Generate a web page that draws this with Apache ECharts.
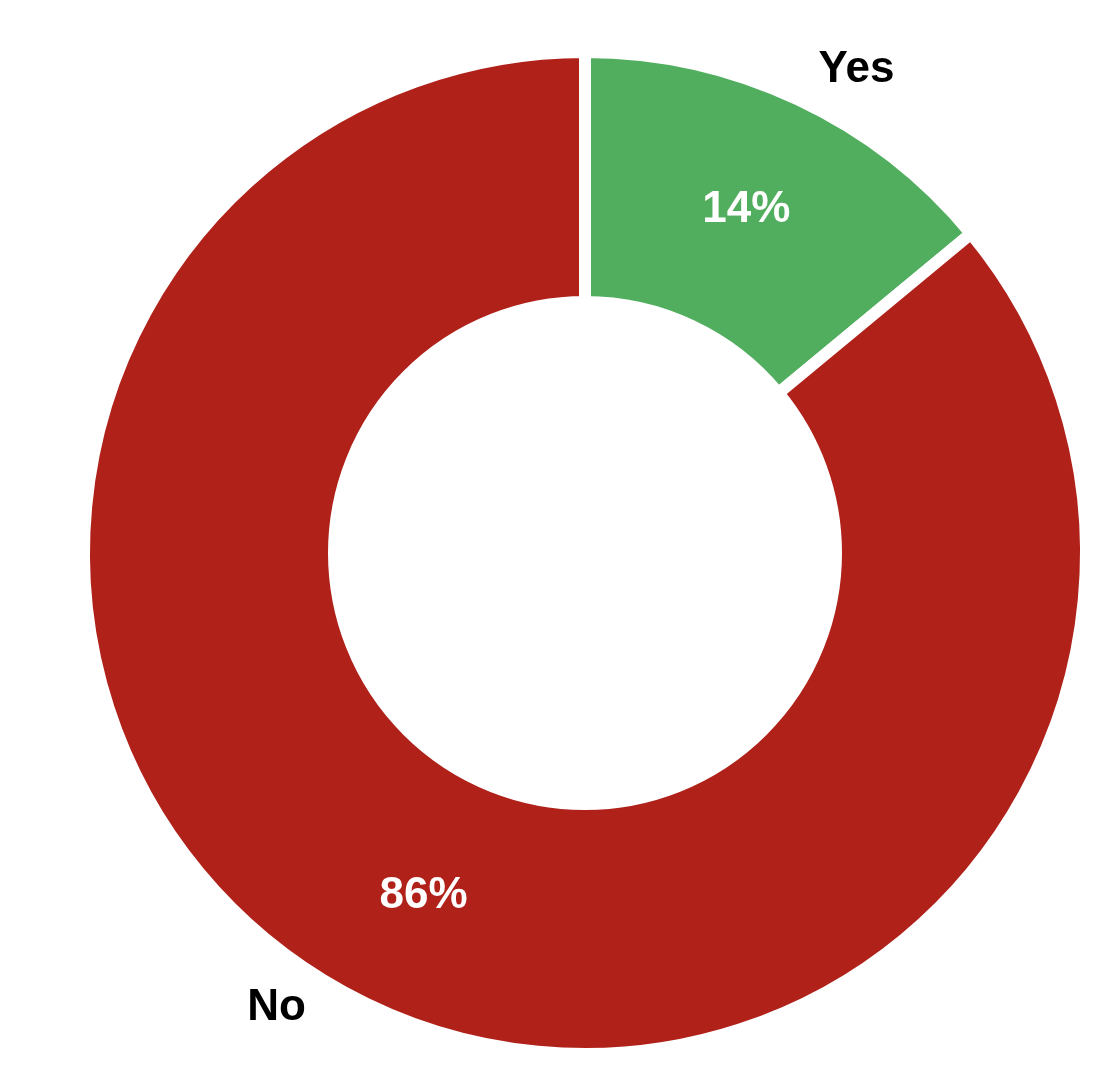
<!DOCTYPE html>
<html><head><meta charset="utf-8">
<script src="https://cdn.jsdelivr.net/npm/echarts@6/dist/echarts.min.js"></script>
<style>html,body{margin:0;padding:0;background:#fff}#c{width:1112px;height:1082px}</style>
</head><body><div id="c"></div>
<script>
const categories = ['Yes', 'No'];
const values = [14, 86];
const colors = ['#52AE5F', '#B0211A'];
const outerOffsets = [[36, 17], [-73, -46]];

const chart = echarts.init(document.getElementById('c'), null, {renderer: 'canvas'});
const font = "'Liberation Sans', Arial, sans-serif";
chart.setOption({
  animation: false,
  backgroundColor: '#fff',
  series: [
    {
      type: 'pie',
      center: [585, 553],
      radius: [251, 501],
      startAngle: 90,
      clockwise: true,
      silent: true,
      itemStyle: {borderColor: '#fff', borderWidth: 12},
      label: {
        position: 'inside', color: '#fff', fontSize: 44, fontWeight: 'bold', fontFamily: font,
        formatter: p => p.value + '%'
      },
      labelLine: {show: false},
      data: categories.map((c, i) => ({name: c, value: values[i], itemStyle: {color: colors[i]}}))
    },
    {
      type: 'pie',
      center: [585, 553],
      radius: [548, 552],
      startAngle: 90,
      clockwise: true,
      silent: true,
      itemStyle: {color: 'rgba(0,0,0,0)'},
      label: {
        position: 'inside', color: '#000', fontSize: 44, fontWeight: 'bold', fontFamily: font,
        formatter: p => p.name
      },
      labelLine: {show: false},
      data: categories.map((c, i) => ({name: c, value: values[i], label: {offset: outerOffsets[i]}}))
    }
  ]
});
</script></body></html>
